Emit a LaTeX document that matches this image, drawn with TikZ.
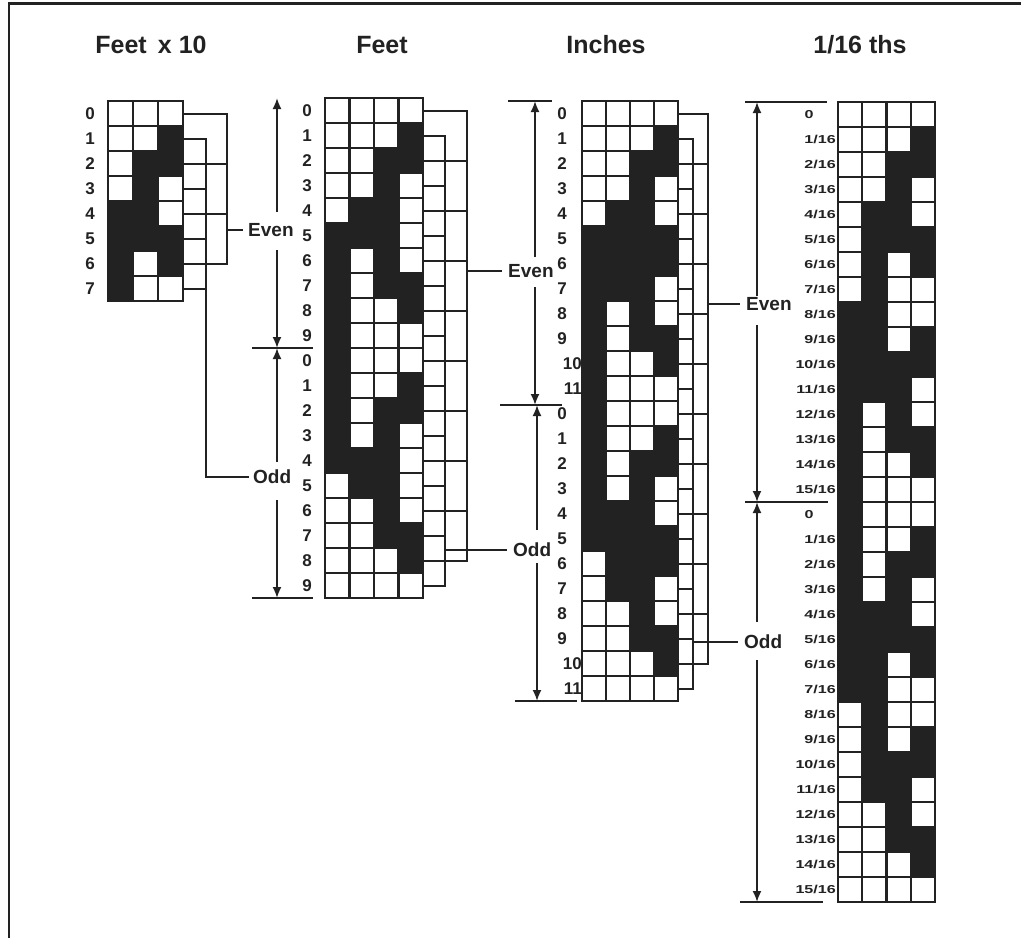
\documentclass[tikz,border=0pt]{standalone}
\usepackage{fontspec}
\setmainfont{Liberation Sans}
\usetikzlibrary{arrows.meta}
\definecolor{ink}{HTML}{222222}
\colorlet{c0}{white}
\colorlet{c1}{ink}
\tikzset{
  cellbox/.style={draw=ink, line width=2.1pt},
  wire/.style={draw=ink, line width=2pt},
  dimline/.style={draw=ink, line width=1.8pt, -{Latex[length=11pt,width=9pt]}},
  tickline/.style={draw=ink, line width=1.8pt},
  head/.style={font=\bfseries\fontsize{25}{27}\selectfont, text=ink, inner sep=0pt},
  rowlab/.style={font=\bfseries\fontsize{17}{18}\selectfont, text=ink, inner sep=0pt},
  fraclab/.style={font=\bfseries\fontsize{11.5}{12}\selectfont, text=ink, inner sep=0pt},
  tag/.style={font=\bfseries\fontsize{19}{20}\selectfont, text=ink, inner sep=0pt, anchor=west},
}
\begin{document}
\begin{tikzpicture}[x=1pt,y=-1pt]
\useasboundingbox (0,0) rectangle (1021,938);
% frame
\draw[line width=3pt, ink] (8,3) -- (1021,3);
\draw[line width=2pt, ink] (9,3) -- (9,938);

% headers
\node[head] (hA) at (151,45) {Feet\hspace{0.45em}x 10};
\node[head] (hB) at (382,45) {Feet};
\node[head] (hC) at (606,45) {Inches};
\node[head] (hD) at (860,45) {1/16 ths};

% ---------- Grid A : Feet x 10 ----------
\foreach \a/\b/\c [count=\i from 0] in {0/0/0,0/0/1,0/1/1,0/1/0,1/1/0,1/1/1,1/0/1,1/0/0}{
  \pgfmathsetmacro\yt{101+25*\i}
  \draw[cellbox,fill=c\a] (108,\yt) rectangle ++(25,25);
  \draw[cellbox,fill=c\b] (133,\yt) rectangle ++(25,25);
  \draw[cellbox,fill=c\c] (158,\yt) rectangle ++(25,25);
  \node[rowlab] (labA\i) at (90,\yt+12.5) {\i};
  \coordinate (A\i) at (183,\yt+12.5);
}
\coordinate (Ai) at (206,0);
\coordinate (Ao) at (227,0);
\node[tag] (AEven) at (248,230) {Even};
\node[tag] (AOdd) at (253,477) {Odd};
\draw[wire] (A1) -| (Ai |- AOdd.west) -- ([xshift=-4pt]AOdd.west);
\foreach \i in {3,5,7} \draw[wire] (A\i) -- (A\i -| Ai);
\draw[wire] (A0) -| (A6 -| Ao) -- (A6);
\foreach \i in {2,4} \draw[wire] (A\i) -- (A\i -| Ao);
\draw[wire] (Ao |- AEven.west) -- ([xshift=-5pt]AEven.west);

% ---------- Grid B : Feet ----------
\foreach \a/\b/\c/\d [count=\i from 0] in {0/0/0/0,0/0/0/1,0/0/1/1,0/0/1/0,0/1/1/0,1/1/1/0,1/0/1/0,1/0/1/1,1/0/0/1,1/0/0/0,
  1/0/0/0,1/0/0/1,1/0/1/1,1/0/1/0,1/1/1/0,0/1/1/0,0/0/1/0,0/0/1/1,0/0/0/1,0/0/0/0}{
  \pgfmathsetmacro\yt{98+25*\i}
  \pgfmathtruncatemacro\lab{mod(\i,10)}
  \draw[cellbox,fill=c\a] (325,\yt) rectangle ++(24.5,25);
  \draw[cellbox,fill=c\b] (349.5,\yt) rectangle ++(24.5,25);
  \draw[cellbox,fill=c\c] (374,\yt) rectangle ++(24.5,25);
  \draw[cellbox,fill=c\d] (398.5,\yt) rectangle ++(24.5,25);
  \node[rowlab] (labB\i) at (307,\yt+12.5) {\lab};
  \coordinate (B\i) at (423,\yt+12.5);
}
\coordinate (Bi) at (445,0);
\coordinate (Bo) at (467,0);
\node[tag] (BEven) at (508,271) {Even};
\node[tag] (BOdd) at (513,550) {Odd};
\draw[wire] (B1) -| (B19 -| Bi) -- (B19);
\foreach \i in {3,5,...,17} \draw[wire] (B\i) -- (B\i -| Bi);
\draw[wire] (B0) -| (B18 -| Bo) -- (B18);
\foreach \i in {2,4,...,16} \draw[wire] (B\i) -- (B\i -| Bo);
\draw[wire] (Bo |- BEven.west) -- ([xshift=-6pt]BEven.west);
\draw[wire] (Bi |- BOdd.west) -- ([xshift=-6pt]BOdd.west);

% dimension arrows left of Feet
\draw[dimline] (277,212) -- (277,98);
\draw[dimline] (277,250) -- (277,348);
\draw[dimline] (277,462) -- (277,348);
\draw[dimline] (277,500) -- (277,598);
\draw[tickline] (252,348) -- (313,348);
\draw[tickline] (252,598) -- (313,598);

% ---------- Grid C : Inches ----------
\foreach \a/\b/\c/\d [count=\i from 0] in {0/0/0/0,0/0/0/1,0/0/1/1,0/0/1/0,0/1/1/0,1/1/1/1,1/1/1/1,1/1/1/0,1/0/1/0,1/0/1/1,1/0/0/1,1/0/0/0,
  1/0/0/0,1/0/0/1,1/0/1/1,1/0/1/0,1/1/1/0,1/1/1/1,0/1/1/1,0/1/1/0,0/0/1/0,0/0/1/1,0/0/0/1,0/0/0/0}{
  \pgfmathsetmacro\yt{101+25*\i}
  \pgfmathtruncatemacro\lab{mod(\i,12)}
  \draw[cellbox,fill=c\a] (582,\yt) rectangle ++(24,25);
  \draw[cellbox,fill=c\b] (606,\yt) rectangle ++(24,25);
  \draw[cellbox,fill=c\c] (630,\yt) rectangle ++(24,25);
  \draw[cellbox,fill=c\d] (654,\yt) rectangle ++(24,25);
  \ifnum\lab>9
    \node[rowlab,anchor=east] (labC\i) at (582,\yt+12.5) {\lab};
  \else
    \node[rowlab] (labC\i) at (562,\yt+12.5) {\lab};
  \fi
  \coordinate (C\i) at (678,\yt+12.5);
}
\coordinate (Ci) at (693,0);
\coordinate (Co) at (708,0);
\node[tag] (CEven) at (746,304) {Even};
\node[tag] (COdd) at (744,642) {Odd};
\draw[wire] (C1) -| (C23 -| Ci) -- (C23);
\foreach \i in {3,5,...,21} \draw[wire] (C\i) -- (C\i -| Ci);
\draw[wire] (C0) -| (C22 -| Co) -- (C22);
\foreach \i in {2,4,...,20} \draw[wire] (C\i) -- (C\i -| Co);
\draw[wire] (Co |- CEven.west) -- ([xshift=-6pt]CEven.west);
\draw[wire] (Ci |- COdd.west) -- ([xshift=-6pt]COdd.west);

% dimension arrows left of Inches
\draw[tickline] (508,101) -- (552,101);
\draw[dimline] (535,257) -- (535,101);
\draw[dimline] (535,287) -- (535,405);
\draw[dimline] (537,530) -- (537,405);
\draw[dimline] (537,563) -- (537,701);
\draw[tickline] (500,405) -- (562,405);
\draw[tickline] (515,701) -- (577,701);

% ---------- Grid D : 1/16 ths ----------
\foreach \a/\b/\c/\d [count=\i from 0] in {0/0/0/0,0/0/0/1,0/0/1/1,0/0/1/0,0/1/1/0,0/1/1/1,0/1/0/1,0/1/0/0,
  1/1/0/0,1/1/0/1,1/1/1/1,1/1/1/0,1/0/1/0,1/0/1/1,1/0/0/1,1/0/0/0,
  1/0/0/0,1/0/0/1,1/0/1/1,1/0/1/0,1/1/1/0,1/1/1/1,1/1/0/1,1/1/0/0,
  0/1/0/0,0/1/0/1,0/1/1/1,0/1/1/0,0/0/1/0,0/0/1/1,0/0/0/1,0/0/0/0}{
  \pgfmathsetmacro\yt{102+25*\i}
  \pgfmathtruncatemacro\lab{mod(\i,16)}
  \draw[cellbox,fill=c\a] (838,\yt) rectangle ++(24.25,25);
  \draw[cellbox,fill=c\b] (862.25,\yt) rectangle ++(24.25,25);
  \draw[cellbox,fill=c\c] (886.5,\yt) rectangle ++(24.25,25);
  \draw[cellbox,fill=c\d] (910.75,\yt) rectangle ++(24.25,25);
  \ifnum\lab=0
    \node[fraclab] (labD\i) at (809,\yt+12.5) {\scalebox{1.4}[1]{0}};
  \else
    \node[fraclab,anchor=east] (labD\i) at (836,\yt+12.5) {\scalebox{1.4}[1]{\lab/16}};
  \fi
}

% dimension arrows left of 1/16 ths
\draw[tickline] (745,102) -- (827,102);
\draw[dimline] (757,296) -- (757,102);
\draw[dimline] (757,325) -- (757,502);
\draw[dimline] (757,622) -- (757,502);
\draw[dimline] (757,660) -- (757,902);
\draw[tickline] (745,502) -- (828,502);
\draw[tickline] (740,902) -- (823,902);
\end{tikzpicture}
\end{document}
